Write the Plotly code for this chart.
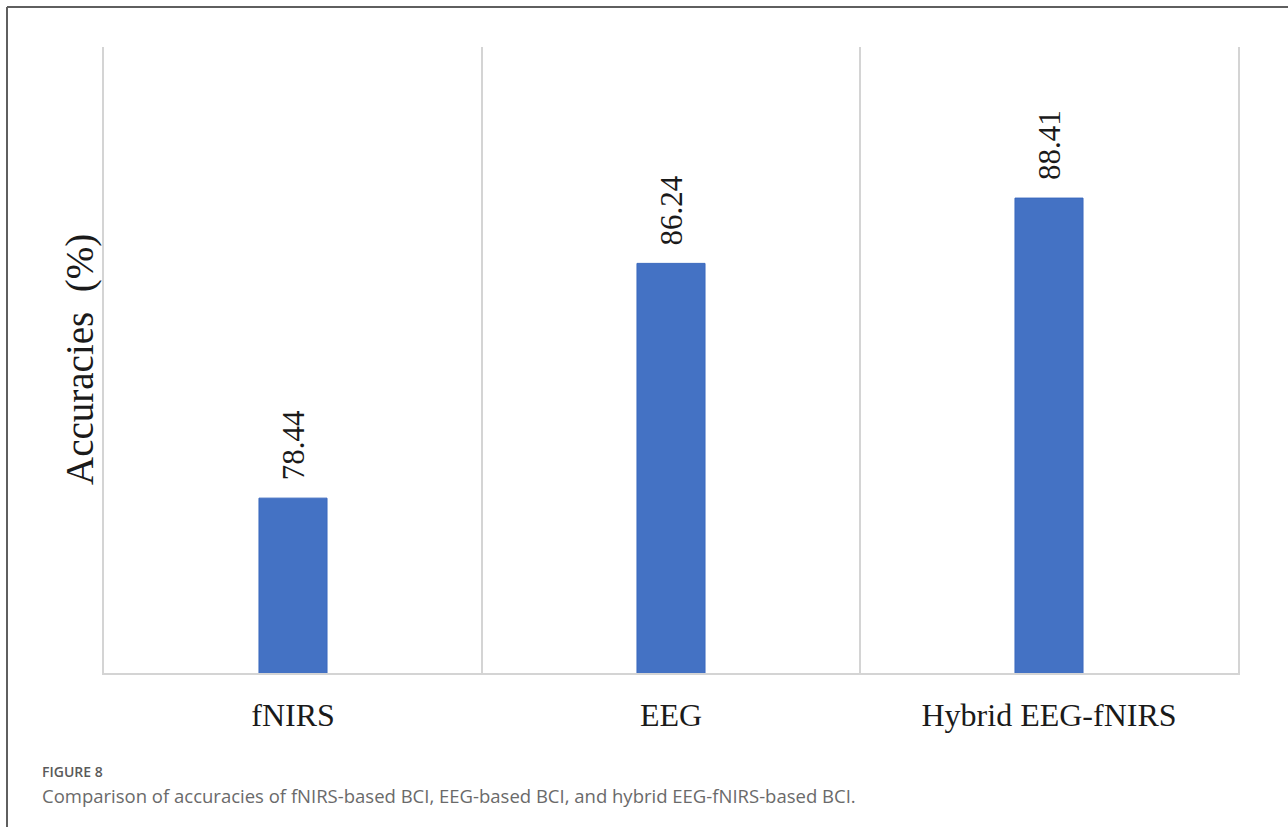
import plotly.graph_objects as go

categories = ["fNIRS", "EEG", "Hybrid EEG-fNIRS"]
accuracies = [78.44, 86.24, 88.41]
value_labels = ["78.44", "86.24", "88.41"]
y_title = "Accuracies\u00a0 (%)"
fig_label = "FIGURE 8"
caption = "Comparison of accuracies of fNIRS-based BCI, EEG-based BCI, and hybrid EEG-fNIRS-based BCI."

W, H = 1288, 827
L, R, T, B = 104, 50, 47, 154
PW, PH = W - L - R, H - T - B

def px(x):
    return (x - L) / PW

def py(y):
    return (H - B - y) / PH

fig = go.Figure()
fig.add_trace(go.Bar(
    x=categories, y=accuracies,
    marker=dict(color="#4472C4", line=dict(color="#3A68BE", width=1)),
    hoverinfo="skip",
))

for c, v, t in zip(categories, accuracies, value_labels):
    fig.add_annotation(x=c, y=v, text=t, showarrow=False, textangle=-90,
                       xanchor="center", yanchor="bottom", yshift=16,
                       font=dict(family="Liberation Serif", size=31, color="#1a1a1a"))

fig.add_annotation(xref="paper", yref="paper", x=px(80), y=0.5, text=y_title,
                   showarrow=False, textangle=-90, xanchor="center", yanchor="middle",
                   font=dict(family="Liberation Serif", size=39, color="#1a1a1a"))

fig.add_annotation(xref="paper", yref="paper", x=px(40), y=py(771), text=fig_label,
                   showarrow=False, xanchor="left", yanchor="middle",
                   font=dict(family="Open Sans", size=14, color="#5a5a5a", weight=600))
fig.add_annotation(xref="paper", yref="paper", x=px(40), y=py(795), text=caption,
                   showarrow=False, xanchor="left", yanchor="middle",
                   font=dict(family="Open Sans", size=18.5, color="#6a6a6a"))

# outer frame (left and top edges)
fig.add_shape(type="line", xref="paper", yref="paper", x0=px(7), x1=px(7),
              y0=py(840), y1=py(7), line=dict(color="#5f5f5f", width=2))
fig.add_shape(type="line", xref="paper", yref="paper", x0=px(7), x1=px(1300),
              y0=py(7), y1=py(7), line=dict(color="#5f5f5f", width=2))

fig.update_layout(
    width=W, height=H,
    margin=dict(l=L, r=R, t=T, b=B),
    paper_bgcolor="white", plot_bgcolor="white",
    bargap=0.82, showlegend=False,
    xaxis=dict(type="category", tickson="boundaries", showgrid=True,
               gridcolor="#d4d4d4", gridwidth=2, ticks="",
               showline=True, linecolor="#d4d4d4", linewidth=2,
               ticklabelstandoff=13,
               tickfont=dict(family="Liberation Serif", size=32, color="#1a1a1a")),
    yaxis=dict(range=[72.63, 93.43], showticklabels=False, showgrid=False,
               zeroline=False, showline=True, mirror=True,
               linecolor="#d4d4d4", linewidth=2, ticks=""),
)

fig.write_html("out.html")
